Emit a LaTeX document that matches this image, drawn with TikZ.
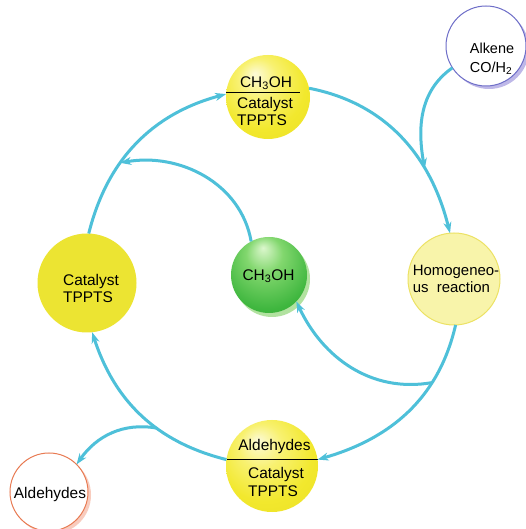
\documentclass[tikz,border=0pt]{standalone}
\usepackage{fontspec}
\setmainfont{Liberation Sans}
\usetikzlibrary{arrows.meta,shadows}
\definecolor{cyanline}{RGB}{78,192,217}
\definecolor{yhi}{RGB}{252,250,215}
\definecolor{ymid}{RGB}{248,241,112}
\definecolor{ybase}{RGB}{242,232,45}
\definecolor{yedge}{RGB}{230,218,32}
\definecolor{ghi}{RGB}{220,247,205}
\definecolor{gmid}{RGB}{130,215,110}
\definecolor{gbase}{RGB}{62,182,62}
\definecolor{gedge}{RGB}{42,152,48}
\definecolor{gshadow}{RGB}{178,226,160}
\definecolor{catfill}{RGB}{236,228,50}
\definecolor{homfill}{RGB}{248,244,170}
\definecolor{homdraw}{RGB}{236,226,100}
\definecolor{alkdraw}{RGB}{110,110,200}
\definecolor{alkshadow}{RGB}{190,184,232}
\definecolor{alddraw}{RGB}{232,122,82}
\definecolor{aldshadow}{RGB}{248,204,190}
\pgfdeclareradialshading{yelball}{\pgfpoint{-8bp}{14bp}}{color(0bp)=(yhi); color(12bp)=(ymid); color(26bp)=(ybase); color(50bp)=(yedge)}
\pgfdeclareradialshading{grnball}{\pgfpoint{-4bp}{18bp}}{color(0bp)=(ghi); color(12bp)=(gmid); color(30bp)=(gbase); color(50bp)=(gedge)}
\begin{document}
\begin{tikzpicture}[x=1bp,y=1bp,
  conn/.style={draw=cyanline, line width=3bp, -{Stealth[length=11bp,width=8bp,inset=3.5bp]}},
  disc/.style={circle, inner sep=0pt, outer sep=0pt},
  yb/.style={disc, shading=yelball},
  txt/.style={font=\fontsize{15.5}{18}\selectfont, align=left, inner sep=0pt},
  divider/.style={draw=black, line width=0.8bp}]
\fill[white] (0,0) rectangle (526,529);
\useasboundingbox (0,0) rectangle (526,529);

% circles
\node[yb, minimum size=84bp] (top) at (268,432) {};
\node[disc, minimum size=80bp, fill=white, draw=alkdraw, line width=1bp,
  drop shadow={shadow xshift=3bp, shadow yshift=-3bp, fill=alkshadow, opacity=1}] (alkene) at (486,483) {};
\node[disc, minimum size=92bp, fill=homfill, draw=homdraw, line width=1bp] (homog) at (454,250) {};
\node[disc, minimum size=76bp, shading=grnball,
  drop shadow={shadow xshift=3bp, shadow yshift=-4bp, fill=gshadow, opacity=1}] (green) at (269,254) {};
\node[disc, minimum size=99bp, fill=catfill] (cat) at (87,246) {};
\node[yb, minimum size=92bp] (ald) at (272,63) {};
\node[disc, minimum size=78bp, fill=white, draw=alddraw, line width=1bp,
  drop shadow={shadow xshift=3bp, shadow yshift=-3bp, fill=aldshadow, opacity=1}] (aldL) at (49,37) {};

% texts
\node[txt] (topA) at (266,446) {CH\textsubscript{3}OH};
\node[txt] (topB) at (265,417.5) {Catalyst\\TPPTS};
\draw[divider] ([shift={(-42,5)}]top.center) -- ([shift={(32,5)}]top.center);
\node[txt, font=\fontsize{14.5}{19}\selectfont] (alkT) at (492,470.5) {Alkene\\CO/H\textsubscript{2}};
\node[txt, font=\fontsize{15}{16.5}\selectfont] (homT) at (456,250) {Homogeneo-\\us~ reaction};
\node[txt] (grnT) at (268.5,253) {CH\textsubscript{3}OH};
\node[txt] (catT) at (91,240.5) {Catalyst\\TPPTS};
\node[txt] (aldA) at (274.5,82) {Aldehydes};
\node[txt] (aldB) at (276,47) {Catalyst\\TPPTS};
\draw[divider] ([shift={(-45,7)}]ald.center) -- ([shift={(46,7)}]ald.center);
\node[txt] (aldLT) at (50,34) {Aldehydes};

% connectors
\draw[conn] (top.12) to[out=-11,in=104] coordinate[pos=0.69] (j1) (homog.95);
\draw[conn] (alkene.213) to[out=215,in=100] (j1);
\draw[conn] (homog.-88) to[out=-103,in=16] coordinate[pos=0.3] (j3) (ald.8);
\draw[conn] (ald.172) to[out=166,in=-72] coordinate[pos=0.39] (j4) (cat.-84);
\draw[conn] (cat.88) to[out=76,in=195] coordinate[pos=0.37] (j2) (top.176);
\draw[conn] (green.118) to[out=100,in=10] (j2);
\draw[conn] (j3) to[out=190,in=-65] (green.-44);
\draw[conn] (j4) to[out=170,in=55] (aldL.45);
\end{tikzpicture}
\end{document}
